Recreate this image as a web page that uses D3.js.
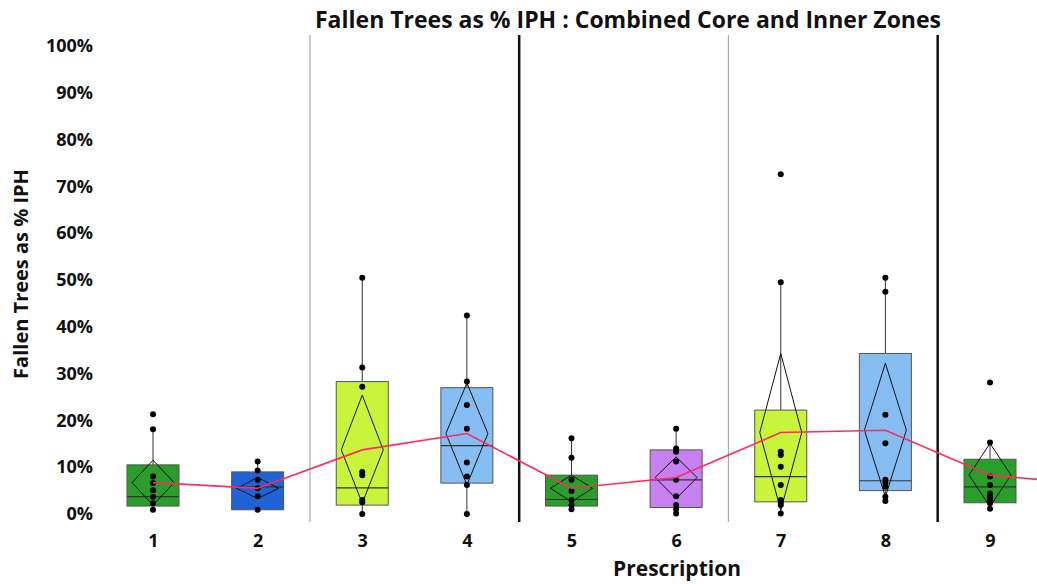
<!DOCTYPE html>
<html><head><meta charset="utf-8">
<script src="https://cdn.jsdelivr.net/npm/d3@7"></script>
<style>body{margin:0;background:#fff}svg{display:block}text{font-family:"Open Sans",sans-serif;font-weight:bold;fill:#111}</style>
</head><body><svg id="c" width="1037" height="584"></svg>
<script>
const categories = ["1","2","3","4","5","6","7","8","9"];
const boxColors = ["#2a9e2a","#1f63d6","#c8f53c","#86bdf2","#2a9e2a","#c680f2","#c8f53c","#86bdf2","#2a9e2a"];
const q1 = [1.7, 0.9, 1.9, 6.6, 1.7, 1.4, 2.6, 5.0, 2.4];
const median = [3.7, 5.8, 5.6, 14.6, 3.1, 7.3, 8.0, 7.1, 5.8];
const q3 = [10.5, 9.0, 28.3, 27.0, 8.3, 13.7, 22.2, 34.3, 11.7];
const whiskerLow = [0.9, 0.9, 0, 0, 1.0, 0.1, 0.1, 2.8, 1.1];
const whiskerHigh = [18.1, 11.2, 50.5, 42.4, 16.2, 18.2, 49.5, 50.5, 15.3];
const means = [6.7, 5.5, 13.7, 17.2, 5.5, 7.8, 17.4, 17.9, 8.3, 6.3];
const ciLow = [1.9, 3.3, 2.3, 6.2, 2.6, 3.3, 0.8, 3.7, 1.6];
const ciHigh = [11.5, 7.8, 25.4, 28.0, 8.3, 12.2, 34.3, 32.2, 15.1];
const points = [
  [21.3, 18.1, 8.0, 6.6, 5.1, 3.7, 2.3, 0.9],
  [11.2, 9.3, 7.3, 5.5, 3.8, 0.9],
  [50.5, 31.3, 27.2, 9.0, 8.3, 3.0, 2.5, 0],
  [42.4, 28.3, 23.3, 18.2, 11.0, 8.0, 6.2, 0],
  [16.2, 12.0, 7.3, 4.9, 3.0, 1.9, 1.0],
  [18.2, 14.0, 13.3, 11.2, 7.3, 3.8, 1.9, 1.0, 0.1],
  [72.6, 49.5, 13.3, 12.6, 10.1, 6.2, 3.0, 2.4, 1.9, 0.1],
  [50.5, 47.5, 21.2, 15.1, 7.3, 6.6, 5.8, 3.7, 2.8],
  [28.1, 15.3, 8.0, 6.2, 4.4, 3.7, 3.0, 2.3, 1.1]
];
const yTicks = [0,10,20,30,40,50,60,70,80,90,100];
const dividers = [{after:2, heavy:false},{after:4, heavy:true},{after:6, heavy:false},{after:8, heavy:true}];
const title = "Fallen Trees as % IPH : Combined Core and Inner Zones";
const xTitle = "Prescription";
const yTitle = "Fallen Trees as % IPH";

const svg = d3.select("#c");
const y = d3.scaleLinear().domain([0,100]).range([514,46]);
const x = d3.scaleLinear().domain([1,9]).range([153,990]);
const boxW = 52, diaHW = 21;

// dividers
dividers.forEach(d=>{
  const xx = (x(d.after)+x(d.after+1))/2;
  svg.append("line").attr("x1",xx).attr("x2",xx).attr("y1",35).attr("y2",522)
    .attr("stroke", d.heavy ? "#111" : "#aaa").attr("stroke-width", d.heavy ? 2.5 : 1.2);
});

// y axis
const yAxis = d3.axisLeft(y).tickValues(yTicks).tickFormat(d=>d+"%").tickSize(0).tickPadding(0);
const gy = svg.append("g").attr("transform","translate(93,0)").call(yAxis);
gy.select(".domain").remove();
gy.selectAll("text").style("font-size","18px").style("font-family","'Open Sans',sans-serif").style("font-weight","bold").attr("fill","#111");

// x axis
const xAxis = d3.axisBottom(x).tickValues(d3.range(1,10)).tickFormat(d=>categories[d-1]).tickSize(0).tickPadding(0);
const gx = svg.append("g").attr("transform","translate(0,534)").call(xAxis);
gx.select(".domain").remove();
gx.selectAll("text").style("font-size","18px").style("font-family","'Open Sans',sans-serif").style("font-weight","bold").attr("fill","#111");

// boxes
categories.forEach((c,i)=>{
  const cx = x(i+1);
  const g = svg.append("g");
  g.append("line").attr("x1",cx).attr("x2",cx).attr("y1",y(whiskerHigh[i])).attr("y2",y(q3[i])).attr("stroke","#333").attr("stroke-width",1);
  g.append("line").attr("x1",cx).attr("x2",cx).attr("y1",y(q1[i])).attr("y2",y(whiskerLow[i])).attr("stroke","#333").attr("stroke-width",1);
  g.append("rect").attr("x",cx-boxW/2).attr("y",y(q3[i])).attr("width",boxW).attr("height",y(q1[i])-y(q3[i]))
    .attr("fill",boxColors[i]).attr("stroke","#555").attr("stroke-width",1);
  g.append("line").attr("x1",cx-boxW/2).attr("x2",cx+boxW/2).attr("y1",y(median[i])).attr("y2",y(median[i])).attr("stroke","#333").attr("stroke-width",1.2);
  const pts = [[cx,y(ciHigh[i])],[cx+diaHW,y(means[i])],[cx,y(ciLow[i])],[cx-diaHW,y(means[i])]];
  g.append("path").attr("d",d3.line()(pts)+"Z").attr("fill","none").attr("stroke","#111").attr("stroke-width",1);
  g.selectAll("circle").data(points[i]).join("circle").attr("cx",cx).attr("cy",d=>y(d)).attr("r",3).attr("fill","#000");
});

// mean line
const line = d3.line().x((d,i)=>x(i+1)).y(d=>y(d));
svg.append("path").attr("d",line(means)).attr("fill","none").attr("stroke","#ff2a5f").attr("stroke-width",1.6);

// titles
svg.append("text").attr("x",628).attr("y",28).attr("text-anchor","middle").style("font-size","23px").text(title);
svg.append("text").attr("x",677).attr("y",576).attr("text-anchor","middle").style("font-size","21px").text(xTitle);
svg.append("text").attr("transform","translate(28,274) rotate(-90)").attr("text-anchor","middle").style("font-size","20px").text(yTitle);
</script></body></html>
